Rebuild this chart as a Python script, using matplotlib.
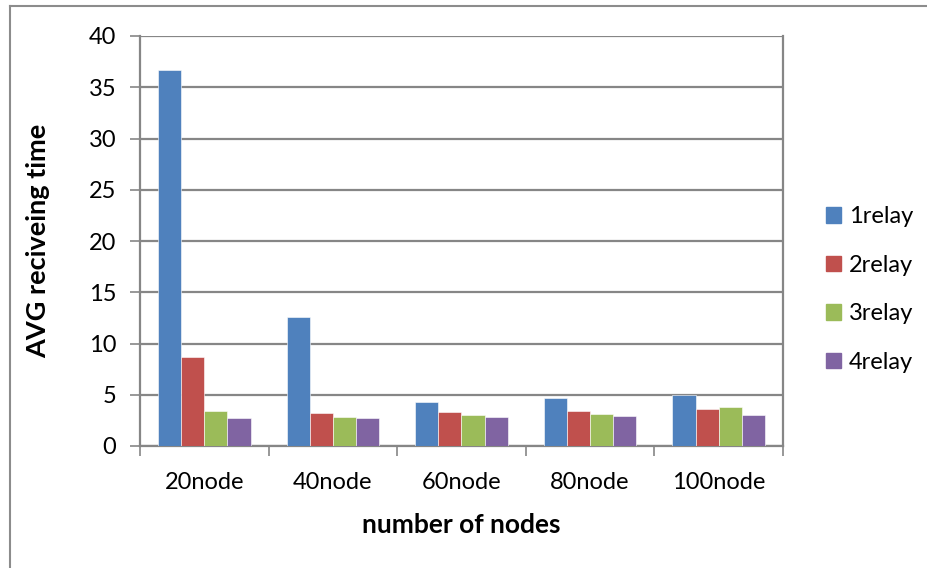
import matplotlib.pyplot as plt
import numpy as np
from matplotlib.lines import Line2D

categories = ["20node", "40node", "60node", "80node", "100node"]
series_names = ["1relay", "2relay", "3relay", "4relay"]
relay1 = [36.7, 12.56, 4.3, 4.7, 4.95]
relay2 = [8.65, 3.2, 3.29, 3.43, 3.6]
relay3 = [3.4, 2.85, 3.0, 3.1, 3.85]
relay4 = [2.75, 2.78, 2.83, 2.94, 3.0]
colors = ["#4F81BD", "#C0504D", "#9BBB59", "#8064A2"]
y_ticks = [0, 5, 10, 15, 20, 25, 30, 35, 40]

plt.rcParams['font.family'] = ['Lato', 'DejaVu Sans']

fig = plt.figure(figsize=(9.28, 5.68), dpi=100)
ax = fig.add_axes([140 / 928, 1 - 446 / 568, (783 - 140) / 928, (446 - 36) / 568])

grid_c = "#868686"
x = np.arange(len(categories))
width = 0.18
all_series = [relay1, relay2, relay3, relay4]
for i, (vals, name, c) in enumerate(zip(all_series, series_names, colors)):
    offs = (i - 1.5) * width
    ax.bar(x + offs, vals, width, color=c, label=name, zorder=3,
           edgecolor="white", linewidth=0.4)

ax.set_xlim(-0.5, len(categories) - 0.5)
ax.set_ylim(0, 40)
ax.set_yticks(y_ticks)
ax.set_yticklabels([str(v) for v in y_ticks], fontsize=17)
ax.yaxis.grid(True, color=grid_c, linewidth=1.6, zorder=0)
ax.set_axisbelow(True)

ax.set_xticks(x)
ax.set_xticklabels(categories, fontsize=17)
ax.tick_params(axis='x', length=0, pad=19)
ax.tick_params(axis='y', length=7, width=1.2, color=grid_c, pad=10)
# category boundary tick marks below the axis
ax.set_xticks(np.arange(-0.5, len(categories), 1.0), minor=True)
ax.tick_params(axis='x', which='minor', length=7, width=1.2, color=grid_c)

for s in ["left", "bottom", "right", "top"]:
    ax.spines[s].set_color(grid_c)
    ax.spines[s].set_linewidth(1.6)
ax.spines["top"].set_visible(False)

ax.set_ylabel("AVG reciveing time", fontsize=19.5, fontweight="bold", labelpad=28)
ax.set_xlabel("number of nodes", fontsize=19, fontweight="bold", labelpad=14)

handles = [plt.Rectangle((0, 0), 1, 1, color=c) for c in colors]
fig.legend(handles, series_names, loc="upper left", bbox_to_anchor=(826 / 928, 1 - 206 / 568),
           frameon=False, fontsize=17, handlelength=0.64, handleheight=0.64,
           labelspacing=1.17, handletextpad=0.32, borderpad=0, borderaxespad=0)

# chart frame
fig.add_artist(Line2D([10 / 928, 10 / 928], [0, 1 - 6 / 568], transform=fig.transFigure,
                      color="#8c8c8c", linewidth=1.5))
fig.add_artist(Line2D([10 / 928, 1], [1 - 6 / 568, 1 - 6 / 568], transform=fig.transFigure,
                      color="#8c8c8c", linewidth=1.5))

fig.savefig("out.png", dpi=100)
